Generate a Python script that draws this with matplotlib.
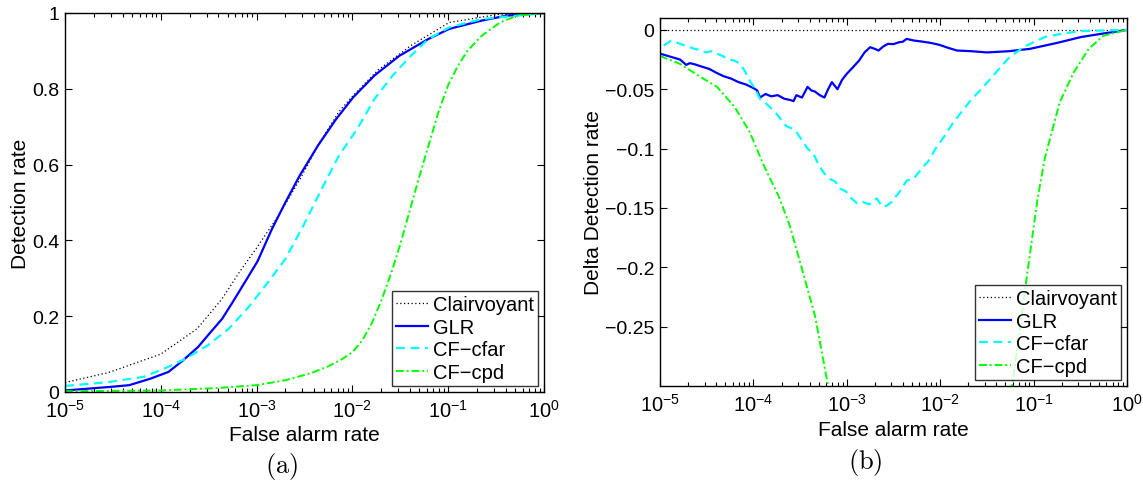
import numpy as np
import matplotlib
matplotlib.use("Agg")
import matplotlib.pyplot as plt
from matplotlib.ticker import LogLocator, FixedLocator, FuncFormatter, NullFormatter

plt.rcParams['font.family'] = ['Liberation Sans', 'DejaVu Sans']
plt.rcParams['mathtext.fontset'] = 'custom'
plt.rcParams['mathtext.rm'] = 'Liberation Sans'
plt.rcParams['mathtext.it'] = 'Liberation Sans:italic'
plt.rcParams['mathtext.bf'] = 'Liberation Sans:bold'

series_names = ["Clairvoyant", "GLR", "CF\u2212cfar", "CF\u2212cpd"]

# ---------------- Panel (a): ROC curves (log10 of false alarm rate, detection rate)
clair_logx = [-5.0, -4.55, -4.0, -3.62, -3.36, -3.18, -3.0, -2.77, -2.55, -2.36, -2.14, -2.0, -1.73, -1.39, -0.99, -0.46, 0.0]
clair_y = [0.025, 0.051, 0.10, 0.167, 0.246, 0.316, 0.38, 0.466, 0.56, 0.65, 0.74, 0.78, 0.85, 0.914, 0.975, 0.997, 1.0]

glr_logx = [-5.0, -4.55, -4.33, -4.11, -3.92, -3.77, -3.61, -3.51, -3.36, -3.25, -3.1, -2.99, -2.84, -2.70, -2.55, -2.36, -2.17, -1.99, -1.77, -1.51, -1.21, -0.99, -0.65, -0.39, 0.0]
glr_y = [0.004, 0.013, 0.018, 0.035, 0.053, 0.083, 0.119, 0.149, 0.193, 0.237, 0.299, 0.345, 0.43, 0.50, 0.571, 0.65, 0.72, 0.778, 0.835, 0.887, 0.931, 0.958, 0.98, 0.993, 1.0]

cfar_logx = [-5.0, -4.55, -4.18, -3.96, -3.74, -3.51, -3.29, -3.07, -2.88, -2.70, -2.51, -2.32, -2.14, -1.95, -1.77, -1.58, -1.39, -1.21, -0.99, -0.65, 0.0]
cfar_y = [0.016, 0.026, 0.04, 0.062, 0.088, 0.123, 0.167, 0.228, 0.29, 0.351, 0.44, 0.536, 0.624, 0.694, 0.773, 0.835, 0.887, 0.931, 0.962, 0.984, 1.0]

cpd_logx = [-5.0, -4.0, -3.44, -3.0, -2.7, -2.43, -2.25, -2.1, -2.0, -1.9, -1.8, -1.7, -1.6, -1.5, -1.4, -1.3, -1.2, -1.1, -1.0, -0.9, -0.8, -0.65, -0.46, -0.28, 0.0]
cpd_y = [0.002, 0.004, 0.01, 0.018, 0.031, 0.05, 0.068, 0.088, 0.105, 0.135, 0.18, 0.24, 0.31, 0.39, 0.48, 0.57, 0.655, 0.74, 0.81, 0.86, 0.9, 0.94, 0.975, 0.993, 1.0]

# ---------------- Panel (b): delta detection rate relative to Clairvoyant
dclair_logx = [-5.0, 0.0]
dclair_y = [0.0, 0.0]

dglr_logx = [-5.0, -4.785, -4.72, -4.68, -4.63, -4.55, -4.47, -4.40, -4.32, -4.24, -4.16, -4.08, -4.0, -3.96, -3.93, -3.87, -3.81, -3.74, -3.67, -3.61, -3.57, -3.54, -3.48, -3.42, -3.38, -3.34, -3.29, -3.24, -3.2, -3.16, -3.1, -3.05, -3.0, -2.94, -2.87, -2.81, -2.75, -2.7, -2.66, -2.61, -2.56, -2.5, -2.44, -2.40, -2.36, -2.28, -2.2, -2.1, -2.01, -1.92, -1.82, -1.66, -1.5, -1.27, -1.04, -0.75, -0.49, -0.25, 0.0]
dglr_y = [-0.020, -0.025, -0.0295, -0.028, -0.029, -0.031, -0.033, -0.036, -0.039, -0.041, -0.044, -0.046, -0.049, -0.051, -0.057, -0.054, -0.056, -0.055, -0.058, -0.059, -0.060, -0.055, -0.057, -0.048, -0.051, -0.052, -0.055, -0.057, -0.050, -0.044, -0.050, -0.042, -0.037, -0.032, -0.026, -0.019, -0.0146, -0.016, -0.0174, -0.014, -0.0118, -0.012, -0.0104, -0.010, -0.0076, -0.009, -0.0098, -0.011, -0.0126, -0.015, -0.0174, -0.018, -0.019, -0.018, -0.016, -0.011, -0.006, -0.003, 0.0]

dcfar_logx = [-4.96, -4.88, -4.785, -4.70, -4.63, -4.57, -4.51, -4.45, -4.39, -4.33, -4.28, -4.2, -4.14, -4.09, -4.04, -3.98, -3.93, -3.85, -3.77, -3.71, -3.65, -3.59, -3.54, -3.48, -3.42, -3.36, -3.30, -3.24, -3.18, -3.12, -3.07, -3.01, -2.95, -2.89, -2.83, -2.76, -2.68, -2.62, -2.57, -2.52, -2.44, -2.36, -2.28, -2.2, -2.12, -2.05, -1.95, -1.86, -1.76, -1.66, -1.56, -1.46, -1.36, -1.27, -1.17, -1.07, -0.88, -0.68, -0.49, 0.0]
dcfar_y = [-0.0132, -0.009, -0.0118, -0.014, -0.016, -0.017, -0.019, -0.018, -0.020, -0.022, -0.0244, -0.026, -0.0287, -0.035, -0.0427, -0.050, -0.058, -0.063, -0.069, -0.075, -0.081, -0.083, -0.086, -0.093, -0.100, -0.104, -0.114, -0.121, -0.1256, -0.128, -0.134, -0.136, -0.142, -0.146, -0.145, -0.147, -0.142, -0.149, -0.148, -0.145, -0.137, -0.127, -0.125, -0.117, -0.110, -0.100, -0.089, -0.078, -0.068, -0.058, -0.050, -0.041, -0.032, -0.024, -0.018, -0.013, -0.006, -0.003, -0.001, 0.0]

dcpd_logx = [-5.0, -4.785, -4.59, -4.39, -4.2, -4.04, -3.89, -3.73, -3.61, -3.46, -3.34, -3.2, -3.0, -2.5, -2.0, -1.6, -1.3, -1.23, -1.09, -0.957, -0.88, -0.72, -0.57, -0.41, -0.254, 0.0]
dcpd_y = [-0.022, -0.0287, -0.0385, -0.048, -0.065, -0.086, -0.114, -0.14, -0.165, -0.207, -0.241, -0.30, -0.37, -0.50, -0.65, -0.55, -0.36, -0.30, -0.218, -0.142, -0.108, -0.061, -0.0357, -0.016, -0.005, 0.0]

panel_labels = ["(a)", "(b)"]
xtick_exps = [-5, -4, -3, -2, -1, 0]
ylim_a = (0, 1)
ylim_b = (-0.3, 0.01)
yticks_a = [0, 0.2, 0.4, 0.6, 0.8, 1]
yticks_b = [0, -0.05, -0.1, -0.15, -0.2, -0.25]

W, H = 1143, 485
fig = plt.figure(figsize=(W / 100, H / 100), dpi=100)
axA = fig.add_axes([65 / W, 1 - 393 / H, 479 / W, 379 / H])
axB = fig.add_axes([660 / W, 1 - 387 / H, 467 / W, 368 / H])

styles = [
    dict(color="black", linestyle=(0, (1, 2)), linewidth=0.9),
    dict(color="#0000ff", linestyle="-", linewidth=1.6),
    dict(color="#00ffff", linestyle=(0, (4, 2.5)), linewidth=1.6),
    dict(color="#00ff00", linestyle=(0, (4, 1.5, 1, 1.5)), linewidth=1.4),
]

data_a = [(clair_logx, clair_y), (glr_logx, glr_y), (cfar_logx, cfar_y), (cpd_logx, cpd_y)]
data_b = [(dclair_logx, dclair_y), (dglr_logx, dglr_y), (dcfar_logx, dcfar_y), (dcpd_logx, dcpd_y)]


def fmt_num(v, pos):
    s = "%g" % v
    return s.replace("-", "\u2212")


YTICK_FS = 14
XTICK_FS = 14.5
LAB_FS = 15
LEG_FS = 14.5

for ax, data, ylim, yt, ylab in [
    (axA, data_a, ylim_a, yticks_a, "Detection rate"),
    (axB, data_b, ylim_b, yticks_b, "Delta Detection rate"),
]:
    for (lx, yv), st, name in zip(data, styles, series_names):
        ax.plot(10 ** np.array(lx), yv, label=name, **st)
    ax.set_xscale("log")
    ax.set_xlim(1e-5, 1)
    ax.set_ylim(*ylim)
    ax.xaxis.set_major_locator(FixedLocator([10.0 ** e for e in xtick_exps]))
    ax.xaxis.set_minor_locator(LogLocator(base=10, subs=np.arange(2, 10), numticks=20))
    ax.xaxis.set_minor_formatter(NullFormatter())
    ax.set_yticks(yt)
    ax.yaxis.set_major_formatter(FuncFormatter(fmt_num))
    ax.tick_params(axis="both", which="both", direction="in", top=True, right=True,
                   width=0.8, color="black")
    ax.tick_params(axis="y", labelsize=YTICK_FS, pad=4)
    ax.tick_params(axis="x", which="major", labelsize=XTICK_FS, pad=5)
    ax.tick_params(which="major", length=5)
    ax.tick_params(which="minor", length=3)
    for sp in ax.spines.values():
        sp.set_linewidth(1.0)
    ax.set_xlabel("False alarm rate", fontsize=LAB_FS)
    ax.set_ylabel(ylab, fontsize=LAB_FS)
    leg = ax.legend(loc="lower right", fontsize=LEG_FS, frameon=True, fancybox=False,
                    handlelength=1.6, handletextpad=0.25, labelspacing=0.18,
                    borderpad=0.2, borderaxespad=0.3)
    leg.get_frame().set_edgecolor("black")
    leg.get_frame().set_linewidth(1.0)

axA.yaxis.set_label_coords(-0.073, 0.5)
axB.yaxis.set_label_coords(-0.122, 0.5)
axA.xaxis.set_label_coords(0.5, -0.088)
axB.xaxis.set_label_coords(0.5, -0.092)

fig.text(282 / W, 1 - 467 / H, r"$\mathrm{%s}$" % panel_labels[0], fontsize=19,
         ha="center", va="center", math_fontfamily="cm")
fig.text(865 / W, 1 - 463 / H, r"$\mathrm{%s}$" % panel_labels[1], fontsize=19,
         ha="center", va="center", math_fontfamily="cm")

fig.savefig("out.png", dpi=100)
